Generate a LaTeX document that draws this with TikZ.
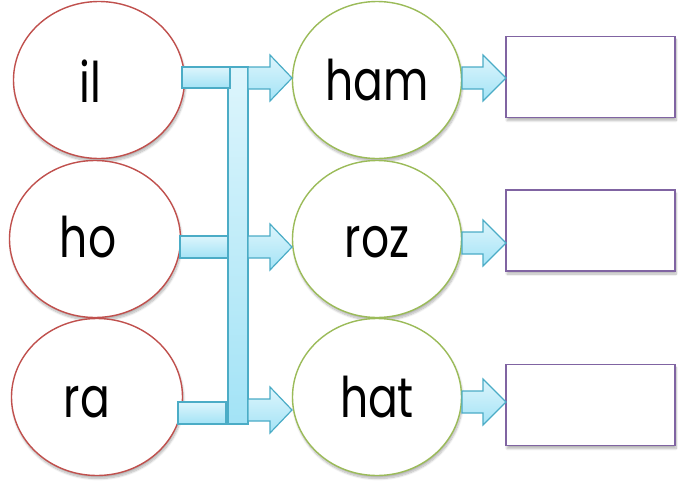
\documentclass[tikz,border=0pt]{standalone}
\usepackage{fontspec}
\setmainfont{Poppins}
\usetikzlibrary{shapes.geometric,shadows.blur}
\definecolor{redc}{HTML}{C0504D}
\definecolor{greenc}{HTML}{9BBB59}
\definecolor{purplec}{HTML}{8064A2}
\definecolor{bluec}{HTML}{4BACC6}
\definecolor{bluetop}{HTML}{DDF5FC}
\definecolor{bluebot}{HTML}{A3E3F6}
\newcommand\wordtext[1]{\scalebox{0.88}[1.12]{#1}}
\newcommand\myblockarrow[4]{%
  \draw[bar] (#1,#4-11) -- (#2,#4-11) -- (#2,#4-23) -- (#3,#4) -- (#2,#4+23) -- (#2,#4+11) -- (#1,#4+11) -- cycle;}
\begin{document}
\begin{tikzpicture}[x=1pt,y=-1pt,
  shade/.style={blur shadow={shadow xshift=1pt,shadow yshift=-3pt,shadow blur steps=8,shadow opacity=30}},
  leftell/.style={ellipse,draw=redc,line width=1.4pt,fill=white,minimum width=171pt,minimum height=157pt,inner sep=0pt,shade},
  midell/.style={ellipse,draw=greenc,line width=1.4pt,fill=white,minimum width=169pt,minimum height=157pt,inner sep=0pt,shade},
  outbox/.style={rectangle,draw=purplec,line width=1.6pt,fill=white,minimum width=169pt,minimum height=81pt,inner sep=0pt,shade},
  word/.style={font=\fontsize{50}{50}\selectfont,inner sep=0pt,text=black},
  bar/.style={draw=bluec,line width=1.2pt,top color=bluetop,bottom color=bluebot,line join=miter}
]
\useasboundingbox (0,0) rectangle (689,488);

% left ellipses
\node[leftell] (e1) at (99,80) {};
\node[leftell] (e2) at (95,239) {};
\node[leftell] (e3) at (97,397) {};
% middle ellipses
\node[midell] (m1) at (377,80) {};
\node[midell] (m2) at (377,239) {};
\node[midell] (m3) at (377,397) {};
% boxes
\node[outbox] (b1) at (590.5,77) {};
\node[outbox] (b2) at (590.5,230.5) {};
\node[outbox] (b3) at (590.5,405) {};

% words
\node[word] (w1) at (90,81) {\wordtext{il}};
\node[word] (w2) at (88,237) {\wordtext{ho}};
\node[word] (w3) at (87,402) {\wordtext{ra}};
\node[word] (w4) at (377,80) {\wordtext{ham}};
\node[word] (w5) at (377,242) {\wordtext{roz}};
\node[word] (w6) at (377,397) {\wordtext{hat}};

% connector bar system
\draw[bar] (228,67) rectangle (248,424);
\draw[bar] (182,67) rectangle (230,88);
\draw[bar] (180,236) rectangle (228,258);
\draw[bar] (178,402) rectangle (226,424);

% block arrows: tail x, base x, tip x, centre y
\myblockarrow{248}{270}{292}{78}
\myblockarrow{248}{270}{292}{247}
\myblockarrow{248}{270}{292}{410}
\myblockarrow{462}{483}{506}{78}
\myblockarrow{462}{483}{506}{243}
\myblockarrow{462}{483}{506}{402}
\end{tikzpicture}
\end{document}
